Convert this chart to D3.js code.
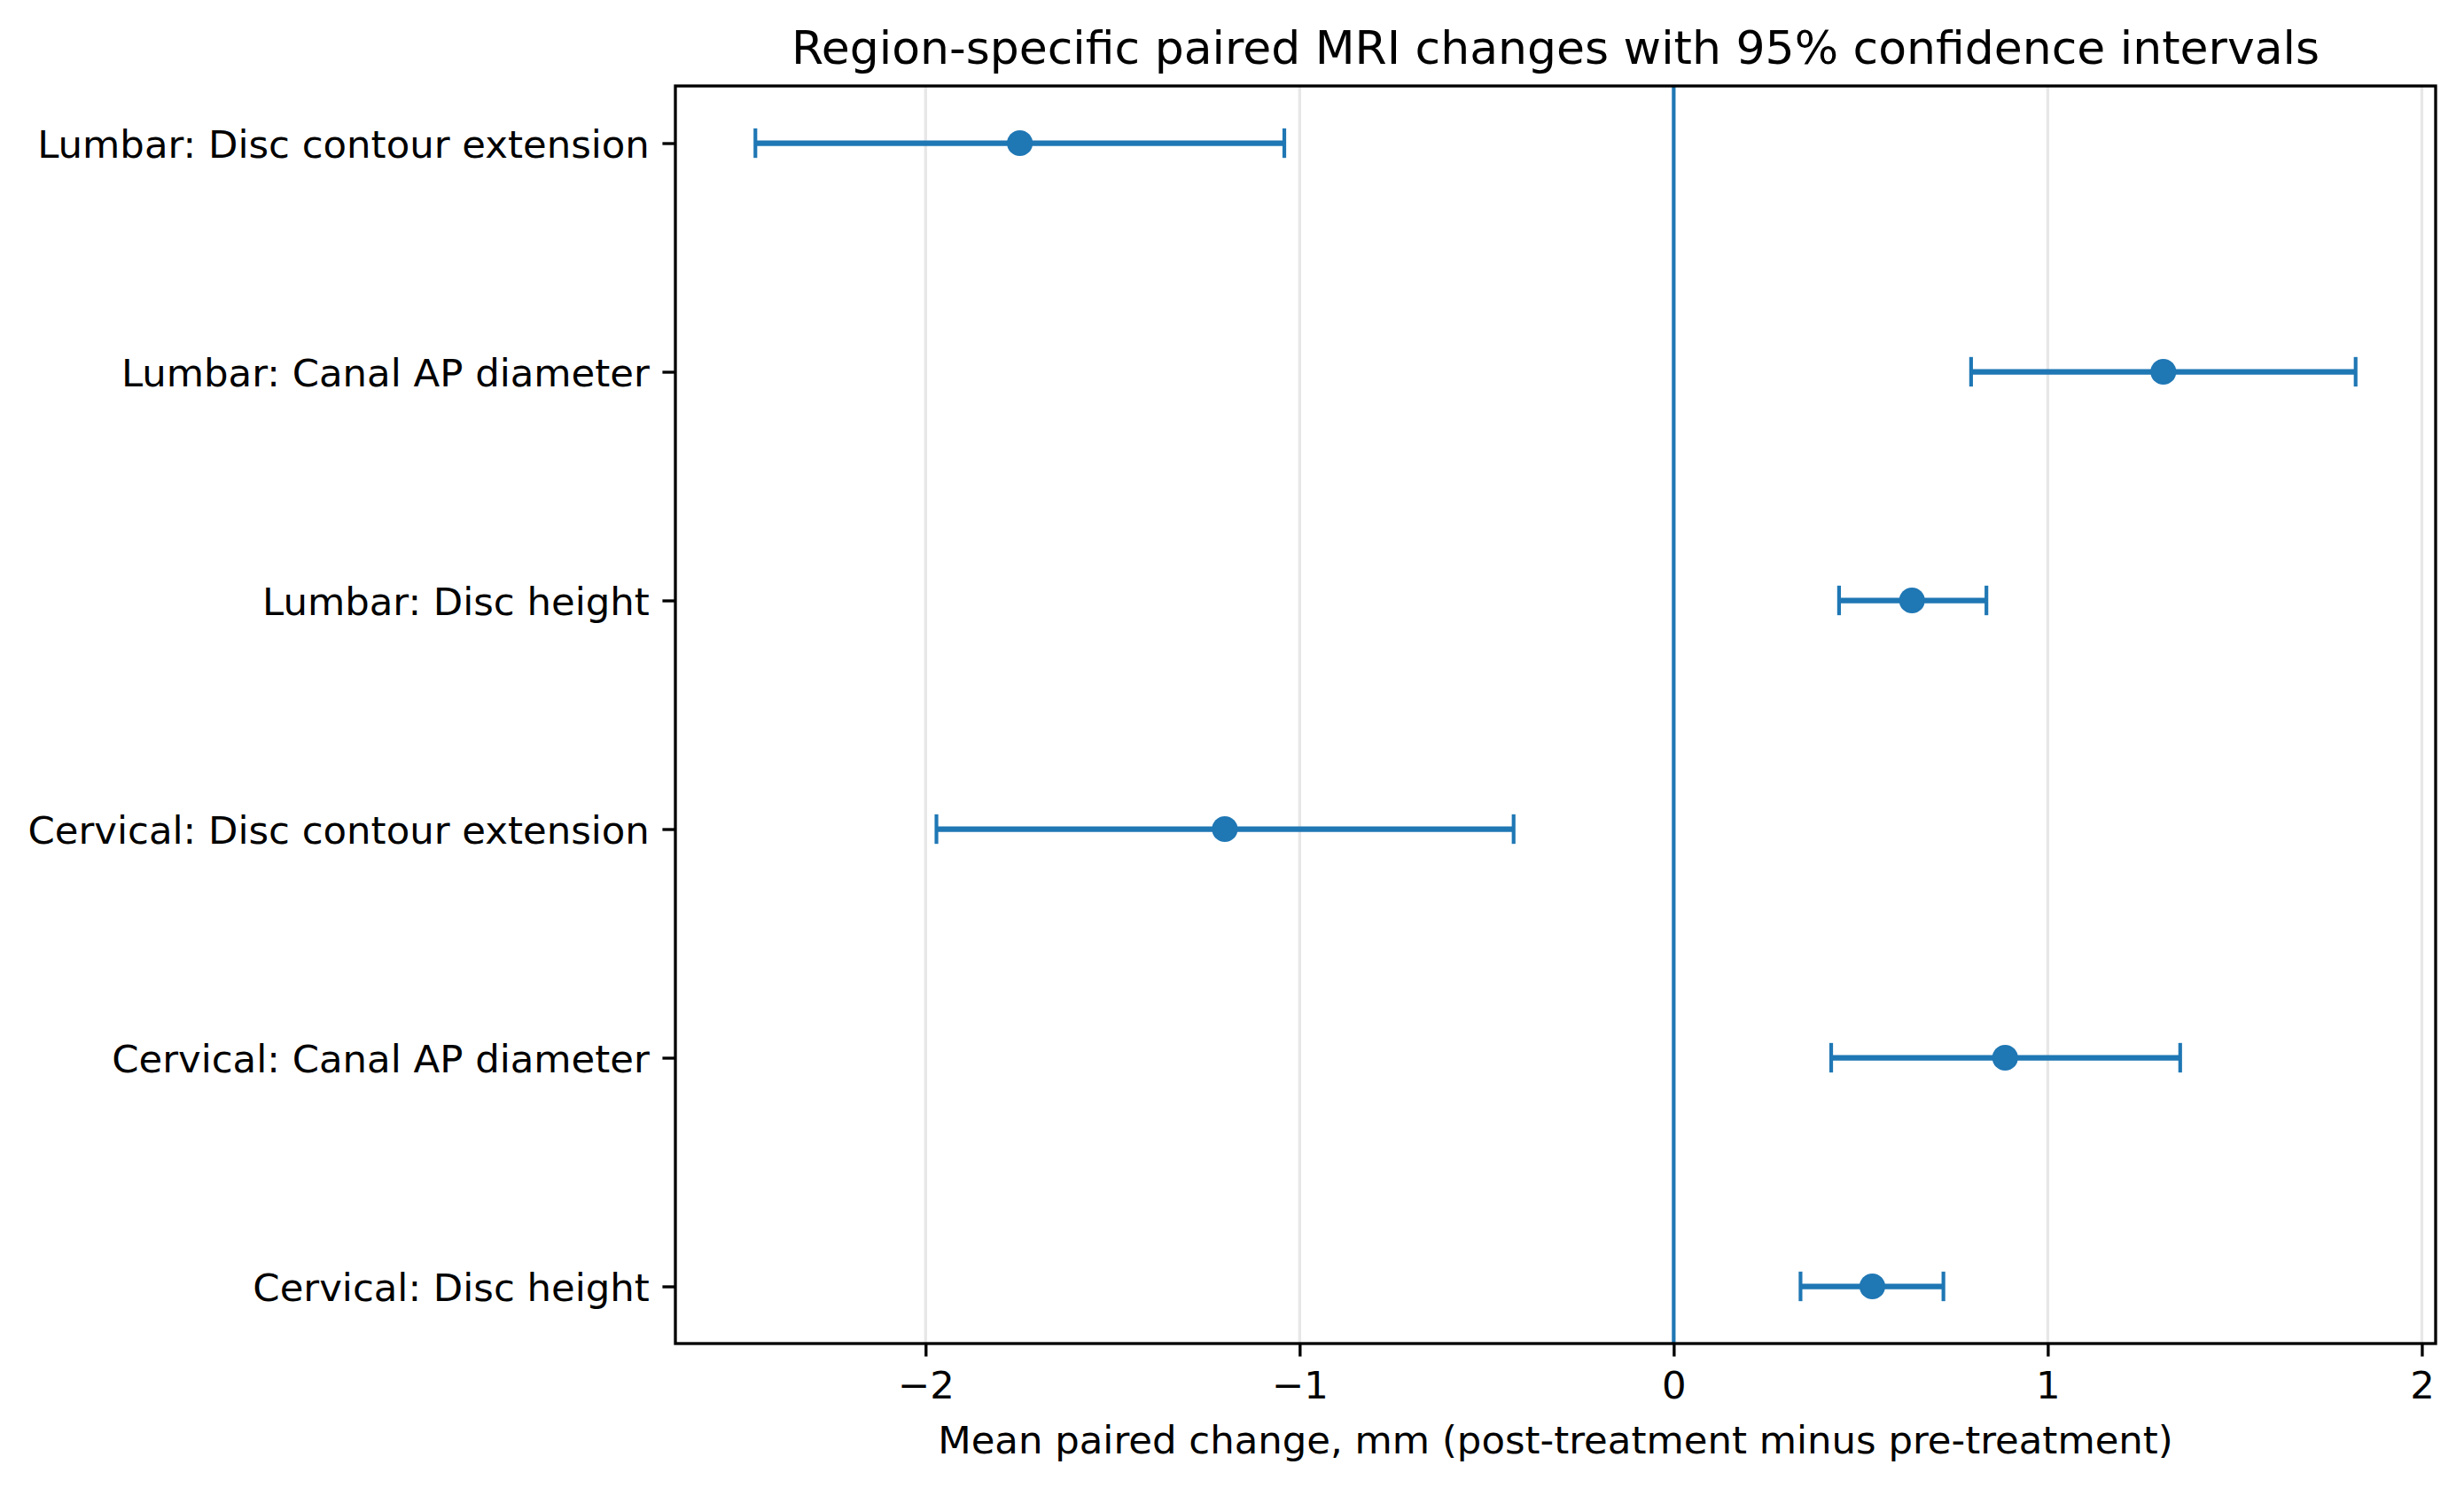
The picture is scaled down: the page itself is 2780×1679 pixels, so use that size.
<!DOCTYPE html>
<html>
<head>
<meta charset="utf-8">
<title>Region-specific paired MRI changes</title>
<script src="https://cdn.jsdelivr.net/npm/d3@7"></script>
<style>
  html, body { margin: 0; padding: 0; background: #fff; }
  svg { display: block; font-family: "DejaVu Sans", sans-serif; }
  .tick-label { font-size: 43.4px; fill: #000; }
  .axis-label { font-size: 43.4px; fill: #000; }
  .chart-title { font-size: 52px; fill: #000; }
</style>
</head>
<body>
<div id="chart"></div>
<script>
// Measures listed bottom-to-top, the way they sit on the y axis
const measures = [
  "Cervical: Disc height",
  "Cervical: Canal AP diameter",
  "Cervical: Disc contour extension",
  "Lumbar: Disc height",
  "Lumbar: Canal AP diameter",
  "Lumbar: Disc contour extension"
];

// Mean paired change (mm) and 95% CI bounds
const meanChange = [0.531, 0.886, -1.200, 0.637, 1.309, -1.748];
const ciLower = [0.339, 0.421, -1.971, 0.442, 0.795, -2.455];
const ciUpper = [0.721, 1.354, -0.428, 0.836, 1.823, -1.041];

const xTicks = [-2, -1, 0, 1, 2];

const titleText = "Region-specific paired MRI changes with 95% confidence intervals";
const xLabelText = "Mean paired change, mm (post-treatment minus pre-treatment)";

// 300 dpi figure: 1pt = 300/72 px
const PT = 300 / 72;
const BLUE = "#1f77b4";

const width = 2780;
const height = 1679;
const plotBox = { left: 762, right: 2748, top: 97, bottom: 1516 };

const rows = measures.map((name, i) => ({
  name,
  pos: i,
  mean: meanChange[i],
  lo: ciLower[i],
  hi: ciUpper[i]
}));

const svg = d3.select("#chart")
  .append("svg")
  .attr("width", width)
  .attr("height", height)
  .attr("viewBox", `0 0 ${width} ${height}`);

svg.append("rect").attr("width", width).attr("height", height).attr("fill", "#fff");

// Matplotlib-style autoscale: 5% margin around the data extent
const xMin = d3.min(rows, (d) => d.lo);
const xMax = d3.max(rows, (d) => d.hi);
const xPad = (xMax - xMin) * 0.05;

const x = d3.scaleLinear()
  .domain([xMin - xPad, xMax + xPad])
  .range([plotBox.left, plotBox.right]);

const yPad = (measures.length - 1) * 0.05;
const y = d3.scaleLinear()
  .domain([-yPad, measures.length - 1 + yPad])
  .range([plotBox.bottom, plotBox.top]);

// Vertical grid lines behind everything
svg.append("g")
  .attr("class", "grid")
  .selectAll("line")
  .data(xTicks)
  .join("line")
  .attr("x1", (d) => x(d))
  .attr("x2", (d) => x(d))
  .attr("y1", plotBox.top)
  .attr("y2", plotBox.bottom)
  .attr("stroke", "#b0b0b0")
  .attr("stroke-opacity", 0.3)
  .attr("stroke-width", 0.8 * PT);

// Reference line at zero change
svg.append("line")
  .attr("x1", x(0))
  .attr("x2", x(0))
  .attr("y1", plotBox.top)
  .attr("y2", plotBox.bottom)
  .attr("stroke", BLUE)
  .attr("stroke-width", 1 * PT);

// Error bars, caps and mean markers
const bars = svg.append("g").attr("class", "intervals");
const capHalf = 4 * PT;

bars.selectAll("line.ci")
  .data(rows)
  .join("line")
  .attr("class", "ci")
  .attr("x1", (d) => x(d.lo))
  .attr("x2", (d) => x(d.hi))
  .attr("y1", (d) => y(d.pos))
  .attr("y2", (d) => y(d.pos))
  .attr("stroke", BLUE)
  .attr("stroke-width", 1.5 * PT);

const caps = rows.flatMap((d) => [{ v: d.lo, pos: d.pos }, { v: d.hi, pos: d.pos }]);

bars.selectAll("line.cap")
  .data(caps)
  .join("line")
  .attr("class", "cap")
  .attr("x1", (d) => x(d.v))
  .attr("x2", (d) => x(d.v))
  .attr("y1", (d) => y(d.pos) - capHalf)
  .attr("y2", (d) => y(d.pos) + capHalf)
  .attr("stroke", BLUE)
  .attr("stroke-width", 1 * PT);

bars.selectAll("circle")
  .data(rows)
  .join("circle")
  .attr("cx", (d) => x(d.mean))
  .attr("cy", (d) => y(d.pos))
  .attr("r", 3.5 * PT)
  .attr("fill", BLUE);

// Axes
const tickLen = 3.5 * PT;
const tickPad = 3.5 * PT;
const minusFormat = (d) => (d < 0 ? "\u2212" + Math.abs(d) : String(d));

const xAxisG = svg.append("g")
  .attr("transform", `translate(0, ${plotBox.bottom})`)
  .call(
    d3.axisBottom(x)
      .tickValues(xTicks)
      .tickFormat(minusFormat)
      .tickSize(tickLen)
      .tickPadding(tickPad)
  );

const yAxisG = svg.append("g")
  .attr("transform", `translate(${plotBox.left}, 0)`)
  .call(
    d3.axisLeft(y)
      .tickValues(d3.range(measures.length))
      .tickFormat((i) => measures[i])
      .tickSize(tickLen)
      .tickPadding(tickPad)
  );

[xAxisG, yAxisG].forEach((g) => {
  g.attr("font-size", null).attr("font-family", null);
  g.select(".domain").remove();
  g.selectAll(".tick line").attr("stroke", "#000").attr("stroke-width", 0.8 * PT);
  g.selectAll(".tick text").attr("class", "tick-label").attr("fill", "#000");
});

xAxisG.selectAll(".tick text").attr("dy", "0.76em");
yAxisG.selectAll(".tick text").attr("dy", "0.36em");

// Frame around the plotting area
svg.append("rect")
  .attr("x", plotBox.left)
  .attr("y", plotBox.top)
  .attr("width", plotBox.right - plotBox.left)
  .attr("height", plotBox.bottom - plotBox.top)
  .attr("fill", "none")
  .attr("stroke", "#000")
  .attr("stroke-width", 0.8 * PT);

// Labels
const centerX = (plotBox.left + plotBox.right) / 2;

svg.append("text")
  .attr("class", "axis-label")
  .attr("x", centerX)
  .attr("y", 1640)
  .attr("text-anchor", "middle")
  .text(xLabelText);

svg.append("text")
  .attr("class", "chart-title")
  .attr("x", centerX)
  .attr("y", 72)
  .attr("text-anchor", "middle")
  .text(titleText);
</script>
</body>
</html>
